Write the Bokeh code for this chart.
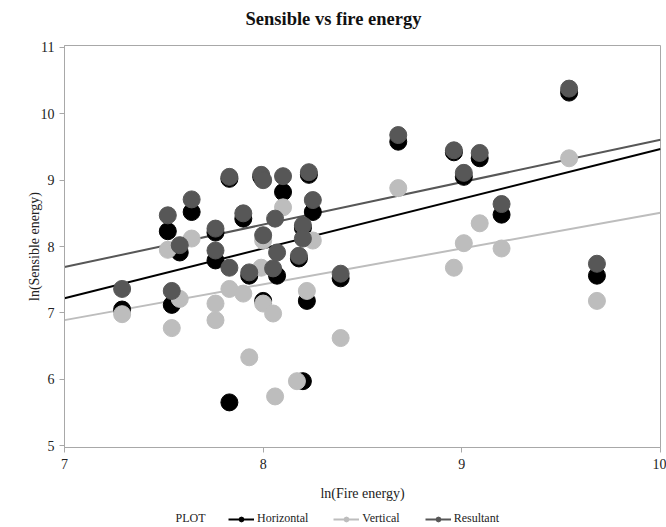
from bokeh.plotting import figure
from bokeh.layouts import column
from bokeh.models import Range1d, Legend, LegendItem, Label, FixedTicker
from bokeh.embed import file_html
from bokeh.resources import INLINE

# ---- data ----
horiz_x = [7.29, 7.52, 7.54, 7.58, 7.64, 7.76, 7.76, 7.83, 7.90, 7.93, 8.00, 8.07, 8.10, 8.20,
           8.22, 8.25, 8.39, 8.68, 8.96, 9.01, 9.09, 9.20, 9.54, 9.68, 7.83, 7.99, 8.20, 8.23, 8.18]
horiz_y = [7.05, 8.23, 7.12, 7.91, 8.52, 8.21, 7.79, 5.65, 8.42, 7.56, 7.18, 7.56, 8.82, 5.97,
           7.18, 8.52, 7.52, 9.58, 9.42, 9.05, 9.33, 8.48, 10.32, 7.56, 9.02, 9.05, 8.28, 9.08, 7.82]

vert_x = [7.29, 7.52, 7.54, 7.58, 7.64, 7.76, 7.76, 7.83, 7.90, 7.93, 7.99, 8.00, 8.05, 8.06,
          8.10, 8.17, 8.22, 8.25, 8.39, 8.68, 8.96, 9.01, 9.09, 9.20, 9.54, 9.68, 8.00]
vert_y = [6.98, 7.95, 6.77, 7.21, 8.12, 7.14, 6.89, 7.36, 7.29, 6.33, 7.68, 7.14, 6.99, 5.74,
          8.59, 5.97, 7.33, 8.09, 6.62, 8.88, 7.68, 8.05, 8.35, 7.97, 9.33, 7.18, 8.09]

result_x = [7.29, 7.52, 7.54, 7.58, 7.64, 7.76, 7.76, 7.83, 7.83, 7.90, 7.93, 7.99, 8.00, 8.00,
            8.05, 8.06, 8.07, 8.10, 8.18, 8.20, 8.20, 8.23, 8.25, 8.39, 8.68, 8.96, 9.01, 9.09,
            9.20, 9.54, 9.68]
result_y = [7.36, 8.47, 7.33, 8.02, 8.71, 8.27, 7.94, 9.05, 7.68, 8.50, 7.61, 9.08, 9.00, 8.17,
            7.67, 8.42, 7.91, 9.06, 7.86, 8.32, 8.12, 9.12, 8.70, 7.59, 9.68, 9.45, 9.11, 9.41,
            8.64, 10.38, 7.74]

# fitted regression lines (end points)
fit_x = [7.0, 10.0]
fit_horiz = [7.22, 9.47]
fit_vert = [6.89, 8.51]
fit_result = [7.69, 9.61]

x_ticks = [7, 8, 9, 10]
y_ticks = [5, 6, 7, 8, 9, 10, 11]
series_names = ["Horizontal", "Vertical", "Resultant"]

FONT = "Liberation Serif"
C_H, C_V, C_R = "#000000", "#bdbdbd", "#575757"
colors = [C_H, C_V, C_R]


def strip(height):
    f = figure(width=666, height=height, output_backend="svg", toolbar_location=None,
               x_range=Range1d(0, 1), y_range=Range1d(0, 1),
               x_axis_type=None, y_axis_type=None,
               min_border_left=64, min_border_right=6, min_border_top=0, min_border_bottom=0)
    f.grid.visible = False
    f.outline_line_color = None
    f.border_fill_color = "white"
    f.background_fill_color = "white"
    return f


# ---- title strip ----
tt = strip(38)
tt.add_layout(Label(x=269, y=20, x_units="screen", y_units="screen",
                    text="Sensible vs fire energy", text_align="center", text_baseline="middle",
                    text_font=FONT, text_font_size="18.5px", text_font_style="bold",
                    text_color="#111111"))

# ---- main plot ----
p = figure(width=666, height=465, output_backend="svg", toolbar_location=None,
           x_range=Range1d(7, 10), y_range=Range1d(4.97, 11.03),
           min_border_left=64, min_border_right=6, min_border_top=7, min_border_bottom=55)

p.grid.visible = False
p.outline_line_color = "#a8a8a8"
p.background_fill_color = "white"
p.border_fill_color = "white"

for ax in (p.xaxis[0], p.yaxis[0]):
    ax.axis_line_color = "#a8a8a8"
    ax.major_tick_line_color = "#a8a8a8"
    ax.major_tick_out = 5
    ax.major_tick_in = 0
    ax.minor_tick_line_color = None
    ax.major_label_text_font = FONT
    ax.major_label_text_font_size = "14px"
    ax.major_label_text_color = "#222222"
    ax.axis_label_text_font = FONT
    ax.axis_label_text_font_size = "14px"
    ax.axis_label_text_font_style = "normal"
    ax.axis_label_text_color = "#222222"

p.xaxis.ticker = FixedTicker(ticks=x_ticks)
p.yaxis.ticker = FixedTicker(ticks=y_ticks)
p.xaxis.axis_label = "ln(Fire energy)"
p.yaxis.axis_label = "ln(Sensible energy)"
p.xaxis.axis_label_standoff = 14
p.yaxis.axis_label_standoff = -4
p.xaxis.major_label_standoff = 6

# regression lines
p.line(fit_x, fit_horiz, line_color=C_H, line_width=2)
p.line(fit_x, fit_vert, line_color=C_V, line_width=2)
p.line(fit_x, fit_result, line_color=C_R, line_width=2)

# points (horizontal, then vertical, then resultant on top)
p.scatter(horiz_x, horiz_y, size=17, marker="circle", fill_color=C_H, line_color=C_H)
p.scatter(vert_x, vert_y, size=17, marker="circle", fill_color=C_V, line_color=C_V)
p.scatter(result_x, result_y, size=17, marker="circle", fill_color=C_R, line_color=C_R)

# ---- legend strip below ----
lg = strip(24)
items = []
for name, c in zip(series_names, colors):
    ln = lg.line([-5, -4], [-5, -4], line_color=c, line_width=2)
    sc = lg.scatter([-5], [-5], size=7, marker="circle", fill_color=c, line_color=c)
    items.append(LegendItem(label=name, renderers=[ln, sc]))

legend = Legend(items=items, orientation="horizontal", location=(164, 1),
                label_text_font=FONT, label_text_font_size="12px", label_text_color="#222222",
                glyph_width=26, glyph_height=12, spacing=25, padding=0, margin=0,
                border_line_color=None, background_fill_alpha=0, label_standoff=3)
lg.add_layout(legend, "center")
lg.add_layout(Label(x=111, y=10, x_units="screen", y_units="screen", text="PLOT",
                    text_baseline="middle",
                    text_font=FONT, text_font_size="12px", text_color="#222222"))

layout = column(tt, p, lg, spacing=0)
open("out.html", "w").write(file_html(layout, INLINE))
